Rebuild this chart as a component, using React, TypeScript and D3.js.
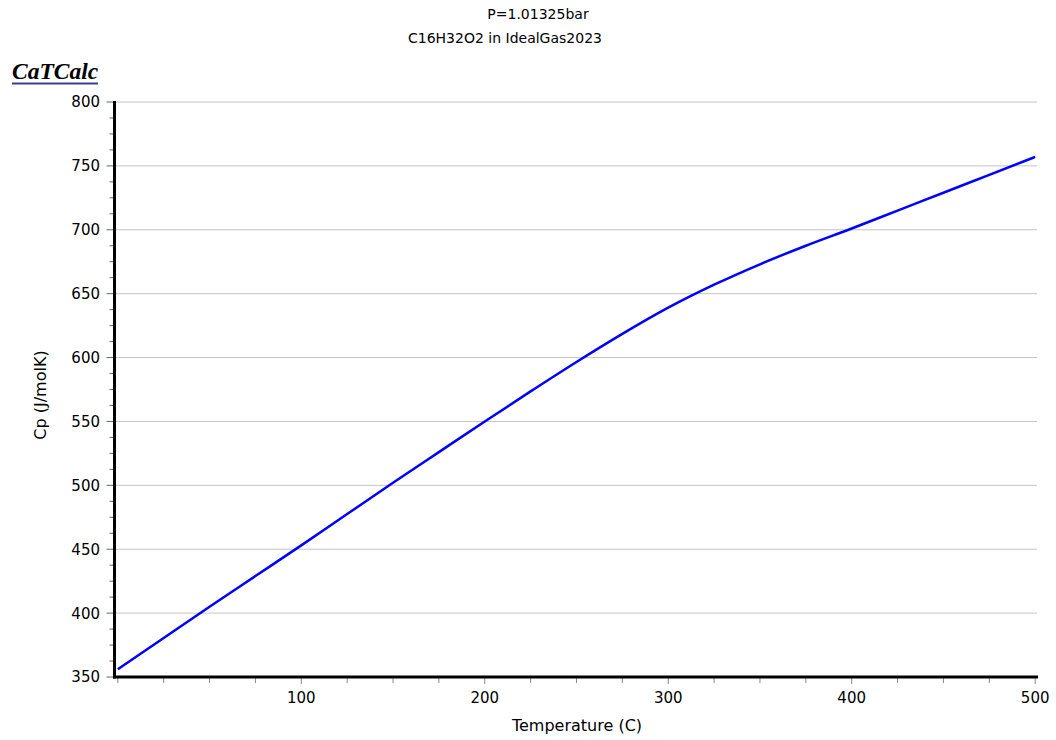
import React from "react";
import * as d3 from "d3";

// Cp of C16H32O2 (ideal gas), every 25 C
const temps = [0, 25, 50, 75, 100, 125, 150, 175, 200, 225, 250, 275, 300, 325, 350, 375, 400, 425, 450, 475, 500];
const cpValues = [356, 380.5, 405, 429, 453, 477.5, 502, 526, 550, 573.5, 596.5, 618.5, 639, 657, 673, 687.5, 701, 715, 729, 743, 757];

const xMajorTicks = [100, 200, 300, 400, 500];
const yMajorTicks = [350, 400, 450, 500, 550, 600, 650, 700, 750, 800];

const titleLines = ["P=1.01325bar", "C16H32O2 in IdealGas2023"];
const xTitle = "Temperature (C)";
const yTitle = "Cp (J/molK)";

const W = 1056;
const H = 740;
const font = "'DejaVu Sans', Verdana, sans-serif";

export default function App() {
    const left = 114.5;
    const right = 1037;
    const top = 102;
    const bottom = 677;

    const x = d3.scaleLinear().domain([-1.8, 501]).range([left, right]);
    const y = d3.scaleLinear().domain([350, 800]).range([bottom, top]);

    const xMinor = d3.range(0, 501, 25).filter((t) => xMajorTicks.indexOf(t) < 0);
    const yMinor = d3.range(350, 800.1, 12.5).filter((v) => yMajorTicks.indexOf(v) < 0);

    const line = d3
        .line<number>()
        .x((d, i) => x(temps[i]))
        .y((d) => y(d))
        .curve(d3.curveMonotoneX);

    return (
        <svg
            width={W}
            height={H}
            style={{ position: "absolute", left: 0, top: 0, background: "#fff" }}
            fontFamily={font}
        >
            {/* titles */}
            <text x={538} y={19} textAnchor="middle" fontSize={14} fill="#000">
                {titleLines[0]}
            </text>
            <text x={505} y={43} textAnchor="middle" fontSize={14} fill="#000">
                {titleLines[1]}
            </text>

            {/* logo */}
            <text
                x={12}
                y={79}
                fontFamily="'Liberation Serif', 'Times New Roman', serif"
                fontWeight="bold"
                fontStyle="italic"
                fontSize={23.5}
                fill="#000"
            >
                CaTCalc
            </text>
            <line x1={12} x2={98} y1={83.5} y2={83.5} stroke="#3a3f86" strokeWidth={2} />

            {/* grid */}
            {yMajorTicks.map((v) => (
                <line key={"g" + v} x1={left + 1} x2={right} y1={y(v)} y2={y(v)} stroke="#c4c4c4" strokeWidth={1} />
            ))}

            {/* y ticks */}
            {yMajorTicks.map((v) => (
                <g key={"y" + v}>
                    <line x1={left - 8} x2={left} y1={y(v)} y2={y(v)} stroke="#666" strokeWidth={1} />
                    <text x={100} y={y(v)} dy="0.36em" textAnchor="end" fontSize={15} fill="#000">
                        {v}
                    </text>
                </g>
            ))}
            {yMinor.map((v) => (
                <line key={"ym" + v} x1={left - 5} x2={left} y1={y(v)} y2={y(v)} stroke="#666" strokeWidth={1} />
            ))}

            {/* x ticks */}
            {xMajorTicks.map((t) => (
                <g key={"x" + t}>
                    <line x1={x(t)} x2={x(t)} y1={bottom} y2={bottom + 7} stroke="#888" strokeWidth={1} />
                    <text x={x(t)} y={703} textAnchor="middle" fontSize={15} fill="#000">
                        {t}
                    </text>
                </g>
            ))}
            {xMinor.map((t) => (
                <line key={"xm" + t} x1={x(t)} x2={x(t)} y1={bottom} y2={bottom + 6} stroke="#888" strokeWidth={1} />
            ))}

            {/* axes */}
            <line x1={left} x2={left} y1={top - 1} y2={bottom + 1.5} stroke="#000" strokeWidth={3} />
            <line x1={left - 1.5} x2={right + 1} y1={bottom} y2={bottom} stroke="#000" strokeWidth={3} />

            {/* axis titles */}
            <text x={577} y={731} textAnchor="middle" fontSize={16} fill="#000">
                {xTitle}
            </text>
            <text
                transform={`translate(46, ${395}) rotate(-90)`}
                textAnchor="middle"
                fontSize={16}
                fill="#000"
            >
                {yTitle}
            </text>

            {/* data */}
            <path d={line(cpValues) || ""} fill="none" stroke="#0000ff" strokeWidth={2.5} strokeLinejoin="round" />
        </svg>
    );
}
